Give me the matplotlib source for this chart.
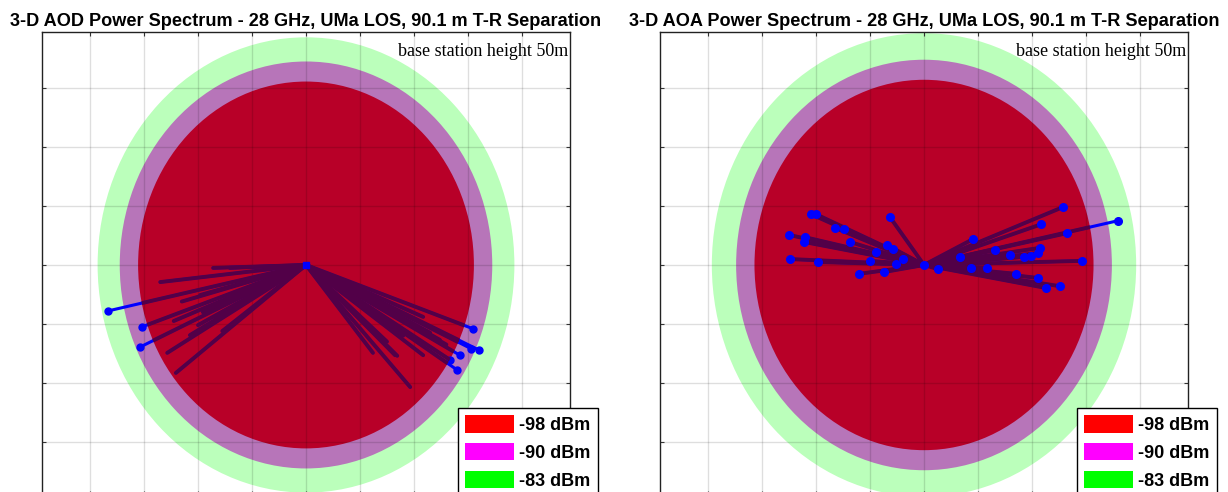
import numpy as np
import matplotlib.pyplot as plt
from matplotlib.patches import Ellipse, Patch

# Power levels shown as rings (outer to inner drawn order: green, magenta, red)
levels = ["-98 dBm", "-90 dBm", "-83 dBm"]
legend_colors = ["#ff0000", "#ff00ff", "#00ff00"]
ring_colors = ["#bbffbb", "#b775b9", "#b80028"]

# Ring radii (grid units) for each panel: green, magenta, red
aod_radii = [3.86, 3.45, 3.11]
aoa_radii = [3.93, 3.48, 3.14]

# Multipath lobe end points (grid units), departure side
aod_x = [-1.72, -1.41, -2.70, -1.96, -3.67, -1.91, -3.04, -1.69, -2.15, -3.07, -2.57, -2.41,
         -2.30, -2.00, -1.55, -2.45,
         1.24, 1.65, 1.69, 1.93, 2.17, 2.17, 2.48, 3.09, 3.20, 3.06, 2.85, 2.67, 2.80,
         1.80, 2.30, 2.60, 1.50]
aod_y = [-0.05, -0.05, -0.29, -0.51, -0.78, -0.80, -1.05, -0.93, -1.19, -1.39, -1.49, -1.83,
         -0.62, -1.02, -1.12, -0.95,
         -1.49, -1.53, -1.54, -2.07, -1.53, -0.88, -1.27, -1.08, -1.44, -1.42, -1.53, -1.61, -1.78,
         -1.20, -1.15, -1.35, -1.30]

# Arrival side
aoa_x = [-2.09, -2.00, -0.63, -1.65, -1.48, -2.50, -2.20, -2.22, -1.37, -0.69, -0.57, -0.89,
         -2.48, -1.96, -1.00, -0.39, -0.52, -1.20, -0.74,
         2.57, 3.59, 2.17, 2.65, 0.91, 2.15, 2.11, 1.98, 1.85, 1.59, 1.31, 0.67, 2.93,
         1.17, 0.87, 0.26, 1.70, 2.11, 2.52, 2.26]
aoa_y = [0.86, 0.86, 0.81, 0.63, 0.61, 0.51, 0.47, 0.39, 0.39, 0.34, 0.27, 0.22,
         0.10, 0.05, 0.07, 0.10, 0.02, -0.15, -0.12,
         0.98, 0.75, 0.69, 0.54, 0.44, 0.29, 0.20, 0.15, 0.14, 0.17, 0.25, 0.14, 0.07,
         -0.05, -0.05, -0.07, -0.15, -0.22, -0.36, -0.39]

titles = ["3-D AOD Power Spectrum - 28 GHz, UMa LOS, 90.1 m T-R Separation",
          "3-D AOA Power Spectrum - 28 GHz, UMa LOS, 90.1 m T-R Separation"]
note = "base station height 50m"

lobe_color = "#520048"
ray_color = "#0000ff"

W, H = 1228, 492
fig = plt.figure(figsize=(W / 100, H / 100), dpi=100)


def panel(left_px, radii, xs, ys, title, dots_on_top, legend_left_px):
    ax = fig.add_axes([left_px / W, -3 / H, 528 / W, 463 / H])
    ax.set_xlim(-4.89, 4.89)
    ax.set_ylim(-3.9, 3.95)
    ax.set_xticks(np.arange(-4, 5))
    ax.set_yticks(np.arange(-3, 4))
    ax.tick_params(direction="in", length=3, top=True, right=True,
                   labelleft=False, labelbottom=False, color="#333333")
    ax.grid(True, color="black", alpha=0.13, lw=1)
    ax.set_axisbelow("line")
    for s in ax.spines.values():
        s.set_color("#222222")
        s.set_linewidth(1.0)

    rings = []
    for r, c in zip(radii, ring_colors):
        e = Ellipse((0, 0), 2 * r, 2 * r, facecolor=c, edgecolor="none", zorder=0.5)
        ax.add_patch(e)
        rings.append(e)
    red = rings[-1]
    r_red = radii[-1]

    for x, y in zip(xs, ys):
        outside = np.hypot(x, y) > r_red
        if dots_on_top or not outside:
            ax.plot([0, x], [0, y], color=ray_color, lw=2.2, solid_capstyle="round", zorder=3)
        else:
            ax.plot([0, x], [0, y], color=ray_color, lw=2.2, solid_capstyle="round",
                    marker="o", markevery=[1], ms=5, zorder=3)
        inner, = ax.plot([0, x], [0, y], color=lobe_color, lw=2.8,
                         solid_capstyle="round", zorder=4)
        inner.set_clip_path(red)

    if dots_on_top:
        ax.plot(xs, ys, ls="none", marker="o", ms=5.5, color=ray_color, zorder=5)
        ax.plot([0], [0], ls="none", marker="o", ms=5.5, color=ray_color, zorder=5)
    else:
        ax.plot([0], [0], ls="none", marker="s", ms=5, color=ray_color, zorder=5)

    ax.set_title(title, fontsize=13.1, fontweight="bold", family="Liberation Sans", pad=4)
    ax.text(0.997, 0.957, note, transform=ax.transAxes, ha="right", va="center",
            fontsize=13, family="Liberation Serif", zorder=6)

    handles = [Patch(facecolor=c, edgecolor="none", label=l)
               for c, l in zip(legend_colors, levels)]
    leg = ax.legend(handles=handles, loc="upper left",
                    bbox_to_anchor=(legend_left_px / W, 1 - 408 / H),
                    bbox_transform=fig.transFigure, frameon=True, fancybox=False,
                    edgecolor="black", framealpha=1, borderpad=0.4,
                    handlelength=2.7, handleheight=1.1, handletextpad=0.3,
                    labelspacing=0.5, borderaxespad=0,
                    prop={"family": "Liberation Sans", "weight": "bold", "size": 13})
    leg.get_frame().set_linewidth(1.0)
    leg.set_zorder(10)
    return ax


panel(42, aod_radii, aod_x, aod_y, titles[0], False, 458)
panel(660, aoa_radii, aoa_x, aoa_y, titles[1], True, 1077)

fig.savefig("out.png", dpi=100)
